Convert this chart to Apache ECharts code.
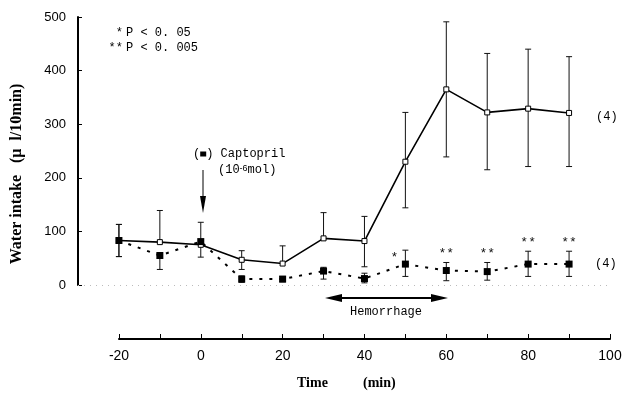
<!DOCTYPE html>
<html>
<head>
<meta charset="utf-8">
<script src="https://cdn.jsdelivr.net/npm/echarts@6/dist/echarts.min.js"></script>
<style>html,body{margin:0;padding:0;background:#fff;}#c{width:636px;height:397px;}</style>
</head>
<body>
<div id="c"></div>
<script>
// ---- data ----
const times = [-20, -10, 0, 10, 20, 30, 40, 50, 60, 70, 80, 90];
const solidMean = [83, 80, 75, 47, 40, 87, 82, 230, 365, 322, 329, 321];
const solidLow  = [53, 80, 52, 29, 40, 87, 34, 144, 239, 215, 221, 221];
const solidHigh = [113, 139, 117, 64, 73, 135, 128, 322, 491, 432, 440, 426];
const dashMean = [83, 55, 81, 11, 11, 26, 12, 39, 27, 25, 39, 39];
const dashLow  = [53, 29, 81, 5, 6, 11, 4, 16, 8, 9, 16, 16];
const dashHigh = [113, 55, 81, 17, 16, 33, 22, 65, 42, 42, 63, 63];
const stars = ['', '', '', '', '', '', '', '*', '**', '**', '**', '**'];
const yTicks = [0, 100, 200, 300, 400, 500];
const xTicks = [-20, 0, 20, 40, 60, 80, 100];

const chart = echarts.init(document.getElementById('c'), null, {renderer: 'canvas'});

function errData(mean, low, high) {
  return times.map((t, i) => [t, low[i], high[i], mean[i]]);
}
function errRender(params, api) {
  const x = api.value(0), lo = api.value(1), hi = api.value(2), m = api.value(3);
  const pLo = api.coord([x, lo]), pHi = api.coord([x, hi]);
  const cap = 3;
  const st = {stroke: '#111', lineWidth: 1};
  const ch = [{type: 'line', shape: {x1: pLo[0], y1: pLo[1], x2: pHi[0], y2: pHi[1]}, style: st}];
  if (lo !== m) ch.push({type: 'line', shape: {x1: pLo[0] - cap, y1: pLo[1], x2: pLo[0] + cap, y2: pLo[1]}, style: st});
  if (hi !== m) ch.push({type: 'line', shape: {x1: pHi[0] - cap, y1: pHi[1], x2: pHi[0] + cap, y2: pHi[1]}, style: st});
  return {type: 'group', children: ch};
}
function starRender(params, api) {
  const x = api.value(0), hi = api.value(1);
  const s = stars[params.dataIndex];
  const p = api.coord([x, hi]);
  const single = s === '*';
  return {type: 'text', x: p[0] + (single ? -11 : 0), y: p[1] + (single ? 7 : -9),
    style: {text: s, font: '13px "Liberation Mono", monospace', fill: '#111', align: 'center', verticalAlign: 'middle'}};
}

const mono = '"Liberation Mono", monospace';

chart.setOption({
  animation: false,
  backgroundColor: '#fff',
  grid: [
    {left: 78, right: 26, top: 17, bottom: 112},
    {left: 119, right: 26, top: 338, height: 1}
  ],
  xAxis: [
    {gridIndex: 0, type: 'value', min: -30, max: 100, show: false},
    {gridIndex: 1, type: 'value', min: -20, max: 100, interval: 10, position: 'bottom',
      axisLine: {show: true, onZero: false, lineStyle: {color: '#000', width: 2}},
      axisTick: {show: true, inside: true, length: 5, lineStyle: {color: '#000', width: 1}},
      splitLine: {show: false},
      axisLabel: {color: '#000', fontFamily: '"Liberation Sans", sans-serif', fontSize: 14, margin: 10,
        formatter: v => (xTicks.indexOf(v) >= 0 ? String(v) : '')}}
  ],
  yAxis: [
    {gridIndex: 0, type: 'value', min: 0, max: 500, interval: 100, position: 'left',
      axisLine: {show: true, onZero: false, lineStyle: {color: '#000', width: 2}},
      axisTick: {show: true, inside: true, length: 4, lineStyle: {color: '#000'}},
      splitLine: {show: false},
      axisLabel: {color: '#000', fontFamily: '"Liberation Sans", sans-serif', fontSize: 13, margin: 12,
        formatter: v => (yTicks.indexOf(v) >= 0 ? String(v) : '')}},
    {gridIndex: 1, type: 'value', show: false}
  ],
  series: [
    {type: 'custom', xAxisIndex: 0, yAxisIndex: 0, renderItem: errRender, data: errData(solidMean, solidLow, solidHigh), z: 2, silent: true},
    {type: 'custom', xAxisIndex: 0, yAxisIndex: 0, renderItem: errRender, data: errData(dashMean, dashLow, dashHigh), z: 2, silent: true},
    {type: 'line', xAxisIndex: 0, yAxisIndex: 0, data: times.map((t, i) => [t, solidMean[i]]),
      symbol: 'rect', symbolSize: 5, showAllSymbol: true,
      itemStyle: {color: '#fff', borderColor: '#000', borderWidth: 1},
      lineStyle: {color: '#000', width: 1.6}, z: 3,
      markLine: {silent: true, symbol: 'none', label: {show: false},
        lineStyle: {color: '#bbb', type: [1, 5], width: 1}, data: [{yAxis: 0}]}},
    {type: 'line', xAxisIndex: 0, yAxisIndex: 0, data: times.map((t, i) => [t, dashMean[i]]),
      symbol: 'rect', symbolSize: 7, showAllSymbol: true,
      itemStyle: {color: '#000'},
      lineStyle: {color: '#000', width: 2, type: [3, 7]}, z: 4},
    {type: 'custom', xAxisIndex: 0, yAxisIndex: 0, renderItem: starRender,
      data: times.map((t, i) => [t, dashHigh[i]]), z: 5, silent: true}
  ],
  graphic: [
    {type: 'text', x: 17, y: 174, rotation: Math.PI / 2, originX: 0, originY: 0,
      style: {text: 'Water intake   (\u03bc  l/10min)', font: 'bold 16px "Liberation Serif", serif', fill: '#000', align: 'center', verticalAlign: 'middle'}},
    {type: 'text', x: 297, y: 383, style: {text: 'Time', font: 'bold 14px "Liberation Serif", serif', fill: '#000', verticalAlign: 'middle'}},
    {type: 'text', x: 363, y: 383, style: {text: '(min)', font: 'bold 14px "Liberation Serif", serif', fill: '#000', verticalAlign: 'middle'}},
    {type: 'text', x: 123, y: 33, style: {text: '*', font: '12px ' + mono, fill: '#000', align: 'right', verticalAlign: 'middle'}},
    {type: 'text', x: 126, y: 33, style: {text: 'P < 0. 05', font: '12px ' + mono, fill: '#000', verticalAlign: 'middle'}},
    {type: 'text', x: 123, y: 48, style: {text: '**', font: '12px ' + mono, fill: '#000', align: 'right', verticalAlign: 'middle'}},
    {type: 'text', x: 126, y: 48, style: {text: 'P < 0. 005', font: '12px ' + mono, fill: '#000', verticalAlign: 'middle'}},
    {type: 'text', x: 193, y: 154, style: {
      text: '({sq|}) Captopril', font: '12px ' + mono, fill: '#000', verticalAlign: 'middle',
      rich: {sq: {width: 6, height: 5, backgroundColor: '#000'}}}},
    {type: 'text', x: 218, y: 170, style: {
      text: '(10{sup|-6}mol)', font: '12px ' + mono, fill: '#000', verticalAlign: 'middle',
      rich: {sup: {fontSize: 9, fontFamily: 'Liberation Sans', verticalAlign: 'top', lineHeight: 9, padding: [0, 0, 7, 0]}}}},
    {type: 'line', shape: {x1: 203, y1: 170, x2: 203, y2: 200}, style: {stroke: '#000', lineWidth: 1}},
    {type: 'polygon', shape: {points: [[200, 196], [206, 196], [203, 213]]}, style: {fill: '#000'}},
    {type: 'line', shape: {x1: 330, y1: 298, x2: 443, y2: 298}, style: {stroke: '#000', lineWidth: 2}},
    {type: 'polygon', shape: {points: [[325, 298], [342, 294], [342, 302]]}, style: {fill: '#000'}},
    {type: 'polygon', shape: {points: [[448, 298], [431, 294], [431, 302]]}, style: {fill: '#000'}},
    {type: 'text', x: 386, y: 312, style: {text: 'Hemorrhage', font: '12px ' + mono, fill: '#000', align: 'center', verticalAlign: 'middle'}},
    {type: 'text', x: 596, y: 117, style: {text: '(4)', font: '12px ' + mono, fill: '#000', verticalAlign: 'middle'}},
    {type: 'text', x: 595, y: 264, style: {text: '(4)', font: '12px ' + mono, fill: '#000', verticalAlign: 'middle'}}
  ]
});
</script>
</body>
</html>
